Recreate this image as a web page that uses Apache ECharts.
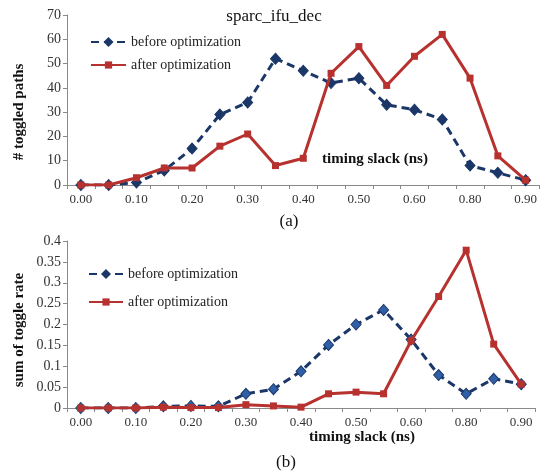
<!DOCTYPE html>
<html>
<head>
    <meta charset="utf-8">
    <title>sparc_ifu_dec</title>
    <script src="https://cdn.jsdelivr.net/npm/echarts@6/dist/echarts.min.js"></script>
    <style>
        html, body { margin: 0; padding: 0; background: #fff; }
        #chart { width: 540px; height: 475px; }
    </style>
</head>
<body>
<div id="chart"></div>
<script type="text/javascript">
    // timing slack categories (every other label is shown)
    var slack = ['0.00', '0.05', '0.10', '0.15', '0.20', '0.25', '0.30', '0.35', '0.40',
        '0.45', '0.50', '0.55', '0.60', '0.70', '0.80', '0.85', '0.90'];

    // (a) number of toggled paths
    var pathsBefore = [0, 0, 1, 6, 15, 29, 34, 52, 47, 42, 44, 33, 31, 27, 8, 5, 2];
    var pathsAfter = [0, 0, 3, 7, 7, 16, 21, 8, 11, 46, 57, 41, 53, 62, 44, 12, 2];

    // (b) sum of toggle rate
    var rateBefore = [0, 0, 0, 0.004, 0.005, 0.004, 0.034, 0.045, 0.088, 0.151, 0.2, 0.235,
        0.164, 0.079, 0.034, 0.07, 0.057];
    var rateAfter = [0, 0, 0, 0.002, 0.001, 0.001, 0.008, 0.005, 0.002, 0.034, 0.038, 0.034,
        0.161, 0.267, 0.378, 0.153, 0.057];

    var serif = 'Liberation Serif';
    var navy = '#1B3768';
    var red = '#B7312F';

    var myChart = echarts.init(document.getElementById('chart'));

    function xAxisOf(idx) {
        return {
            type: 'category',
            gridIndex: idx,
            data: slack,
            boundaryGap: true,
            axisLine: { lineStyle: { color: '#8a8a8a', width: 1 } },
            axisTick: { show: true, interval: 0, length: 4, lineStyle: { color: '#8a8a8a' } },
            axisLabel: { interval: 1, color: '#333', fontFamily: serif, fontSize: 13, margin: 8 },
            splitLine: { show: false }
        };
    }

    function yAxisOf(idx, max, step) {
        return {
            type: 'value',
            gridIndex: idx,
            min: 0,
            max: max,
            interval: step,
            axisLine: { show: true, lineStyle: { color: '#8a8a8a', width: 1 } },
            axisTick: { show: true, length: 4, lineStyle: { color: '#8a8a8a' } },
            axisLabel: { color: '#333', fontFamily: serif, fontSize: 14, margin: 6 },
            splitLine: { show: false }
        };
    }

    function beforeSeries(idx, data, markerColor) {
        return {
            name: 'before optimization',
            type: 'line',
            xAxisIndex: idx,
            yAxisIndex: idx,
            data: data,
            symbol: 'diamond',
            symbolSize: [10, 11],
            lineStyle: { color: navy, width: 3, type: [8, 5] },
            itemStyle: { color: markerColor, borderColor: navy, borderWidth: 1 },
            z: 2
        };
    }

    function afterSeries(idx, data) {
        return {
            name: 'after optimization',
            type: 'line',
            xAxisIndex: idx,
            yAxisIndex: idx,
            data: data,
            symbol: 'rect',
            symbolSize: 7,
            lineStyle: { color: red, width: 3 },
            itemStyle: { color: red },
            z: 3
        };
    }

    function label(text, x, y, font, rot) {
        return {
            type: 'text',
            x: x,
            y: y,
            rotation: rot || 0,
            style: {
                text: text,
                font: font,
                fill: '#111',
                textAlign: 'center',
                textVerticalAlign: 'middle',
                align: 'center',
                verticalAlign: 'middle'
            }
        };
    }

    var legendText = { color: '#222', fontFamily: serif, fontSize: 14 };

    myChart.setOption({
        animation: false,
        backgroundColor: '#fff',
        grid: [
            { left: 67, top: 15, width: 473, height: 170 },
            { left: 67, top: 241, width: 468, height: 167 }
        ],
        legend: [
            {
                orient: 'vertical', left: 85, top: 30, itemWidth: 35, itemHeight: 9, itemGap: 9,
                textStyle: legendText,
                data: ['before optimization', 'after optimization']
            },
            {
                orient: 'vertical', left: 83, top: 262, itemWidth: 34, itemHeight: 9, itemGap: 14,
                textStyle: legendText,
                data: ['before optimization', 'after optimization']
            }
        ],
        xAxis: [xAxisOf(0), xAxisOf(1)],
        yAxis: [yAxisOf(0, 70, 10), yAxisOf(1, 0.4, 0.05)],
        series: [
            beforeSeries(0, pathsBefore, navy),
            afterSeries(0, pathsAfter),
            beforeSeries(1, rateBefore, '#2F5FA6'),
            afterSeries(1, rateAfter)
        ],
        graphic: [
            label('sparc_ifu_dec', 274, 17, '17px "Liberation Serif"'),
            label('timing slack (ns)', 375, 159, 'bold 15px "Liberation Serif"'),
            label('# toggled paths', 19, 112, 'bold 15px "Liberation Serif"', Math.PI / 2),
            label('(a)', 289, 222, '17px "Liberation Serif"'),
            label('timing slack (ns)', 362, 437, 'bold 15px "Liberation Serif"'),
            label('sum of toggle rate', 19, 330, 'bold 15px "Liberation Serif"', Math.PI / 2),
            label('(b)', 286, 463, '17px "Liberation Serif"')
        ]
    });
</script>
</body>
</html>
